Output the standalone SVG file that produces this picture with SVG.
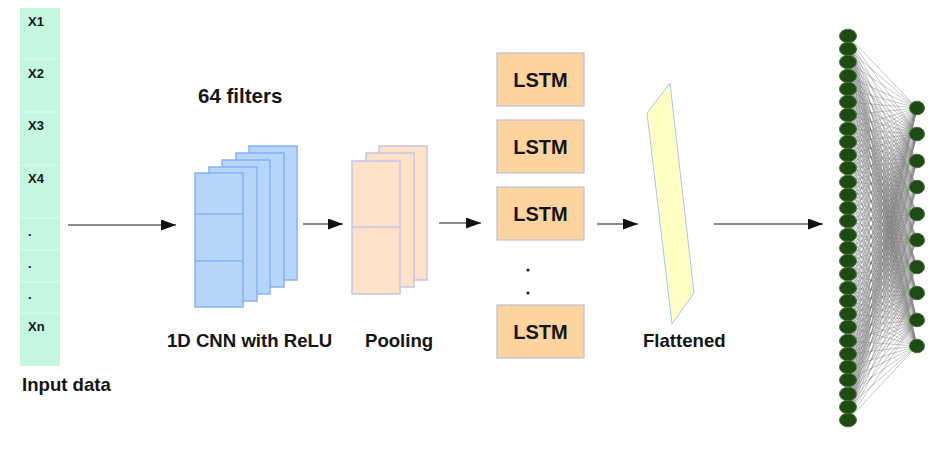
<svg xmlns="http://www.w3.org/2000/svg" width="933" height="463" viewBox="0 0 933 463">
  <style>
    .lbl { font-family: "Liberation Sans", Arial, sans-serif; font-weight: bold; fill: #151515; }
    .xin { font-size: 13px; }
    .cap { font-size: 18.6px; }
    .lstm-t { font-size: 20px; text-anchor: middle; }
    .cell-div { stroke: #e4fbf1; stroke-width: 1.2; }
    .conv { fill: #b5d5fb; stroke: #86b0f5; stroke-width: 1.5; }
    .pool { fill: #fde2c8; stroke: #c6c4e6; stroke-width: 1.5; }
    .lstm-box { fill: #fdd49e; stroke: #b9bfdc; stroke-width: 1.2; }
    .flow { stroke: #666; stroke-width: 1.6; fill: none; marker-end: url(#head); }
    .mesh { stroke: #7a7a7a; stroke-width: 0.7; stroke-opacity: 0.6; fill: none; }
    .neuron { fill: #1e4a13; stroke: #47723a; stroke-width: 1; }
  </style>
  <defs>
    <marker id="head" markerUnits="userSpaceOnUse" markerWidth="16" markerHeight="11" refX="15" refY="5.5" orient="auto">
      <path d="M0 0L15 5.5L0 11z" fill="#111"/>
    </marker>
  </defs>
  <rect width="933" height="463" fill="#fff"/>

  <!-- input sequence column -->
  <g id="input-data">
    <rect x="20" y="8" width="40" height="358" fill="#c4f7e1"/>
    <path class="cell-div" d="M20 59H60M20 112H60M20 165H60M20 218H60M20 250H60M20 282H60M20 313H60"/>
    <text class="lbl xin" x="28" y="26">X1</text>
    <text class="lbl xin" x="28" y="78">X2</text>
    <text class="lbl xin" x="28" y="130">X3</text>
    <text class="lbl xin" x="28" y="183">X4</text>
    <text class="lbl xin" x="28" y="236">.</text>
    <text class="lbl xin" x="28" y="268">.</text>
    <text class="lbl xin" x="28" y="299">.</text>
    <text class="lbl xin" x="28" y="331">Xn</text>
    <text class="lbl cap" x="22" y="391">Input data</text>
  </g>

  <!-- convolution filter stack -->
  <g id="conv1d">
    <text class="lbl" x="198" y="103" font-size="20.5">64 filters</text>
    <rect class="conv" x="249" y="146" width="48" height="134"/>
    <rect class="conv" x="236" y="153" width="48" height="134"/>
    <rect class="conv" x="222" y="160" width="48" height="134"/>
    <rect class="conv" x="209" y="167" width="48" height="134"/>
    <rect class="conv" x="195" y="173" width="48" height="134"/>
    <path class="conv" d="M195 214H243M195 261H243"/>
    <text class="lbl cap" x="167" y="347">1D CNN with ReLU</text>
  </g>

  <!-- pooling stack -->
  <g id="pooling">
    <rect class="pool" x="379" y="146" width="48" height="134"/>
    <rect class="pool" x="366" y="153" width="48" height="134"/>
    <rect class="pool" x="352" y="161" width="48" height="133"/>
    <path class="pool" d="M352 227H400"/>
    <text class="lbl cap" x="365" y="347">Pooling</text>
  </g>

  <!-- recurrent layer -->
  <g id="lstm-1">
    <rect class="lstm-box" x="497" y="53" width="87" height="53"/>
    <text class="lbl lstm-t" x="540.5" y="87">LSTM</text>
  </g>
  <g id="lstm-2">
    <rect class="lstm-box" x="497" y="120" width="87" height="53"/>
    <text class="lbl lstm-t" x="540.5" y="154">LSTM</text>
  </g>
  <g id="lstm-3">
    <rect class="lstm-box" x="497" y="187" width="87" height="53"/>
    <text class="lbl lstm-t" x="540.5" y="221">LSTM</text>
  </g>
  <g id="lstm-ellipsis">
    <circle cx="528" cy="270" r="1.6" fill="#222"/>
    <circle cx="528" cy="293" r="1.6" fill="#222"/>
  </g>
  <g id="lstm-n">
    <rect class="lstm-box" x="497" y="305" width="87" height="53"/>
    <text class="lbl lstm-t" x="540.5" y="339">LSTM</text>
  </g>

  <!-- flatten -->
  <g id="flattened">
    <polygon points="670,83 647,113 672,324 694,293" fill="#ffffc4" stroke="#a8c4f0" stroke-width="1"/>
    <text class="lbl cap" x="643" y="347">Flattened</text>
  </g>

  <!-- dense layers -->
  <g id="dense">
    <path class="mesh" d="M917 108L848 36M917 108L848 49M917 108L848 62M917 108L848 76M917 108L848 89M917 108L848 102M917 108L848 115M917 108L848 129M917 108L848 142M917 108L848 155M917 108L848 168M917 108L848 182M917 108L848 195M917 108L848 208M917 108L848 221M917 108L848 235M917 108L848 248M917 108L848 261M917 108L848 274M917 108L848 288M917 108L848 301M917 108L848 314M917 108L848 327M917 108L848 341M917 108L848 354M917 108L848 367M917 108L848 380M917 108L848 394M917 108L848 407M917 108L848 420"/>
    <path class="mesh" d="M917 134L848 36M917 134L848 49M917 134L848 62M917 134L848 76M917 134L848 89M917 134L848 102M917 134L848 115M917 134L848 129M917 134L848 142M917 134L848 155M917 134L848 168M917 134L848 182M917 134L848 195M917 134L848 208M917 134L848 221M917 134L848 235M917 134L848 248M917 134L848 261M917 134L848 274M917 134L848 288M917 134L848 301M917 134L848 314M917 134L848 327M917 134L848 341M917 134L848 354M917 134L848 367M917 134L848 380M917 134L848 394M917 134L848 407M917 134L848 420"/>
    <path class="mesh" d="M917 161L848 36M917 161L848 49M917 161L848 62M917 161L848 76M917 161L848 89M917 161L848 102M917 161L848 115M917 161L848 129M917 161L848 142M917 161L848 155M917 161L848 168M917 161L848 182M917 161L848 195M917 161L848 208M917 161L848 221M917 161L848 235M917 161L848 248M917 161L848 261M917 161L848 274M917 161L848 288M917 161L848 301M917 161L848 314M917 161L848 327M917 161L848 341M917 161L848 354M917 161L848 367M917 161L848 380M917 161L848 394M917 161L848 407M917 161L848 420"/>
    <path class="mesh" d="M917 187L848 36M917 187L848 49M917 187L848 62M917 187L848 76M917 187L848 89M917 187L848 102M917 187L848 115M917 187L848 129M917 187L848 142M917 187L848 155M917 187L848 168M917 187L848 182M917 187L848 195M917 187L848 208M917 187L848 221M917 187L848 235M917 187L848 248M917 187L848 261M917 187L848 274M917 187L848 288M917 187L848 301M917 187L848 314M917 187L848 327M917 187L848 341M917 187L848 354M917 187L848 367M917 187L848 380M917 187L848 394M917 187L848 407M917 187L848 420"/>
    <path class="mesh" d="M917 214L848 36M917 214L848 49M917 214L848 62M917 214L848 76M917 214L848 89M917 214L848 102M917 214L848 115M917 214L848 129M917 214L848 142M917 214L848 155M917 214L848 168M917 214L848 182M917 214L848 195M917 214L848 208M917 214L848 221M917 214L848 235M917 214L848 248M917 214L848 261M917 214L848 274M917 214L848 288M917 214L848 301M917 214L848 314M917 214L848 327M917 214L848 341M917 214L848 354M917 214L848 367M917 214L848 380M917 214L848 394M917 214L848 407M917 214L848 420"/>
    <path class="mesh" d="M917 240L848 36M917 240L848 49M917 240L848 62M917 240L848 76M917 240L848 89M917 240L848 102M917 240L848 115M917 240L848 129M917 240L848 142M917 240L848 155M917 240L848 168M917 240L848 182M917 240L848 195M917 240L848 208M917 240L848 221M917 240L848 235M917 240L848 248M917 240L848 261M917 240L848 274M917 240L848 288M917 240L848 301M917 240L848 314M917 240L848 327M917 240L848 341M917 240L848 354M917 240L848 367M917 240L848 380M917 240L848 394M917 240L848 407M917 240L848 420"/>
    <path class="mesh" d="M917 267L848 36M917 267L848 49M917 267L848 62M917 267L848 76M917 267L848 89M917 267L848 102M917 267L848 115M917 267L848 129M917 267L848 142M917 267L848 155M917 267L848 168M917 267L848 182M917 267L848 195M917 267L848 208M917 267L848 221M917 267L848 235M917 267L848 248M917 267L848 261M917 267L848 274M917 267L848 288M917 267L848 301M917 267L848 314M917 267L848 327M917 267L848 341M917 267L848 354M917 267L848 367M917 267L848 380M917 267L848 394M917 267L848 407M917 267L848 420"/>
    <path class="mesh" d="M917 293L848 36M917 293L848 49M917 293L848 62M917 293L848 76M917 293L848 89M917 293L848 102M917 293L848 115M917 293L848 129M917 293L848 142M917 293L848 155M917 293L848 168M917 293L848 182M917 293L848 195M917 293L848 208M917 293L848 221M917 293L848 235M917 293L848 248M917 293L848 261M917 293L848 274M917 293L848 288M917 293L848 301M917 293L848 314M917 293L848 327M917 293L848 341M917 293L848 354M917 293L848 367M917 293L848 380M917 293L848 394M917 293L848 407M917 293L848 420"/>
    <path class="mesh" d="M917 320L848 36M917 320L848 49M917 320L848 62M917 320L848 76M917 320L848 89M917 320L848 102M917 320L848 115M917 320L848 129M917 320L848 142M917 320L848 155M917 320L848 168M917 320L848 182M917 320L848 195M917 320L848 208M917 320L848 221M917 320L848 235M917 320L848 248M917 320L848 261M917 320L848 274M917 320L848 288M917 320L848 301M917 320L848 314M917 320L848 327M917 320L848 341M917 320L848 354M917 320L848 367M917 320L848 380M917 320L848 394M917 320L848 407M917 320L848 420"/>
    <path class="mesh" d="M917 346L848 36M917 346L848 49M917 346L848 62M917 346L848 76M917 346L848 89M917 346L848 102M917 346L848 115M917 346L848 129M917 346L848 142M917 346L848 155M917 346L848 168M917 346L848 182M917 346L848 195M917 346L848 208M917 346L848 221M917 346L848 235M917 346L848 248M917 346L848 261M917 346L848 274M917 346L848 288M917 346L848 301M917 346L848 314M917 346L848 327M917 346L848 341M917 346L848 354M917 346L848 367M917 346L848 380M917 346L848 394M917 346L848 407M917 346L848 420"/>
    <g class="neuron">
      <ellipse cx="848" cy="36" rx="8.5" ry="6.8"/>
      <ellipse cx="848" cy="49" rx="8.5" ry="6.8"/>
      <ellipse cx="848" cy="62" rx="8.5" ry="6.8"/>
      <ellipse cx="848" cy="76" rx="8.5" ry="6.8"/>
      <ellipse cx="848" cy="89" rx="8.5" ry="6.8"/>
      <ellipse cx="848" cy="102" rx="8.5" ry="6.8"/>
      <ellipse cx="848" cy="115" rx="8.5" ry="6.8"/>
      <ellipse cx="848" cy="129" rx="8.5" ry="6.8"/>
      <ellipse cx="848" cy="142" rx="8.5" ry="6.8"/>
      <ellipse cx="848" cy="155" rx="8.5" ry="6.8"/>
      <ellipse cx="848" cy="168" rx="8.5" ry="6.8"/>
      <ellipse cx="848" cy="182" rx="8.5" ry="6.8"/>
      <ellipse cx="848" cy="195" rx="8.5" ry="6.8"/>
      <ellipse cx="848" cy="208" rx="8.5" ry="6.8"/>
      <ellipse cx="848" cy="221" rx="8.5" ry="6.8"/>
      <ellipse cx="848" cy="235" rx="8.5" ry="6.8"/>
      <ellipse cx="848" cy="248" rx="8.5" ry="6.8"/>
      <ellipse cx="848" cy="261" rx="8.5" ry="6.8"/>
      <ellipse cx="848" cy="274" rx="8.5" ry="6.8"/>
      <ellipse cx="848" cy="288" rx="8.5" ry="6.8"/>
      <ellipse cx="848" cy="301" rx="8.5" ry="6.8"/>
      <ellipse cx="848" cy="314" rx="8.5" ry="6.8"/>
      <ellipse cx="848" cy="327" rx="8.5" ry="6.8"/>
      <ellipse cx="848" cy="341" rx="8.5" ry="6.8"/>
      <ellipse cx="848" cy="354" rx="8.5" ry="6.8"/>
      <ellipse cx="848" cy="367" rx="8.5" ry="6.8"/>
      <ellipse cx="848" cy="380" rx="8.5" ry="6.8"/>
      <ellipse cx="848" cy="394" rx="8.5" ry="6.8"/>
      <ellipse cx="848" cy="407" rx="8.5" ry="6.8"/>
      <ellipse cx="848" cy="420" rx="8.5" ry="6.8"/>
      <ellipse cx="917" cy="108" rx="7.5" ry="6.8"/>
      <ellipse cx="917" cy="134" rx="7.5" ry="6.8"/>
      <ellipse cx="917" cy="161" rx="7.5" ry="6.8"/>
      <ellipse cx="917" cy="187" rx="7.5" ry="6.8"/>
      <ellipse cx="917" cy="214" rx="7.5" ry="6.8"/>
      <ellipse cx="917" cy="240" rx="7.5" ry="6.8"/>
      <ellipse cx="917" cy="267" rx="7.5" ry="6.8"/>
      <ellipse cx="917" cy="293" rx="7.5" ry="6.8"/>
      <ellipse cx="917" cy="320" rx="7.5" ry="6.8"/>
      <ellipse cx="917" cy="346" rx="7.5" ry="6.8"/>
    </g>
  </g>

  <!-- data flow arrows -->
  <g id="connectors">
    <path class="flow" d="M68 225H176"/>
    <path class="flow" d="M303 224H343"/>
    <path class="flow" d="M439 223H481"/>
    <path class="flow" d="M597 224H638"/>
    <path class="flow" d="M714 224H823"/>
  </g>
</svg>
